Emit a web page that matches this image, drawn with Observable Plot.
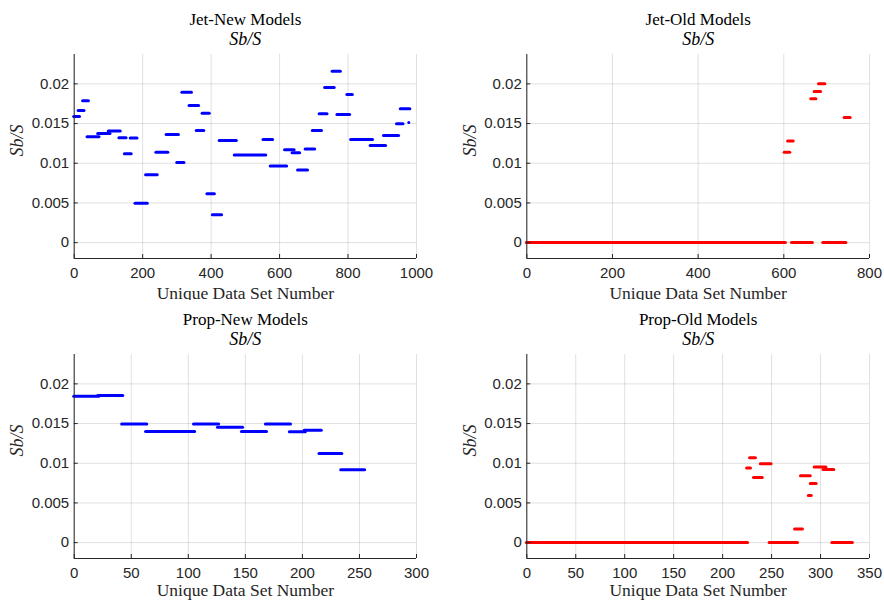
<!DOCTYPE html>
<html><head><meta charset="utf-8">
<script src="https://cdn.jsdelivr.net/npm/d3@7"></script>
<script src="https://cdn.jsdelivr.net/npm/@observablehq/plot@0.6"></script>
<style>
body{margin:0;background:#fff;}
#wrap{position:relative;width:884px;height:601px;overflow:hidden;}
.panel{position:absolute;}
</style></head><body><div id="wrap"></div>
<script>
// ---- data: each run of identical values is one segment (first set, last set, value) ----
const jetNewStart = [0,13,26,39,70,101,132,148,165,179,210,240,270,301,316,337,358,375,389,405,425,469,553,574,616,638,654,676,697,717,733,755,769,798,809,866,905,943,954,979];
const jetNewEnd   = [17,30,43,74,106,136,153,168,185,215,244,275,306,322,344,365,380,396,411,432,475,561,581,622,644,660,683,704,724,740,761,779,806,814,873,911,949,962,982,979];
const jetNewValue = [0.0159,0.01665,0.01786,0.01333,0.01375,0.01405,0.01321,0.01119,0.01317,0.00495,0.00855,0.0114,0.01363,0.0101,0.01895,0.01727,0.01413,0.01631,0.00616,0.00352,0.01287,0.01103,0.0130,0.00964,0.0117,0.01132,0.00914,0.01178,0.01413,0.01623,0.01954,0.02159,0.01614,0.01866,0.0130,0.01224,0.0135,0.01497,0.01686,0.01514];

const jetOldStart = [0,602,610,619,664,672,682,692,742];
const jetOldEnd   = [605,615,623,668,676,687,697,746,756];
const jetOldValue = [0,0.0114,0.01279,0,0.01811,0.01904,0.0200,0,0.01577];

const propNewStart = [0,21,42,63,105,126,147,168,189,202,215,234];
const propNewEnd   = [22,43,64,106,127,148,169,190,203,217,235,255];
const propNewValue = [0.01845,0.01853,0.01493,0.0140,0.01493,0.01455,0.0140,0.01493,0.01396,0.01417,0.01124,0.00918];

const propOldStart = [0,225,228,232,239,248,274,280,288,290,294,303,312];
const propOldEnd   = [226,229,234,241,250,277,282,290,291,296,306,314,333];
const propOldValue = [0,0.00939,0.01069,0.00822,0.00994,0,0.00172,0.00843,0.00595,0.00746,0.00952,0.00922,0];

const yTicks = [0, 0.005, 0.01, 0.015, 0.02];
const yTickLabels = ["0", "0.005", "0.01", "0.015", "0.02"];
const yDomain = [-0.002, 0.0237];
const jetNewXTicks = [0, 200, 400, 600, 800, 1000];
const jetOldXTicks = [0, 200, 400, 600, 800];
const propNewXTicks = [0, 50, 100, 150, 200, 250, 300];
const propOldXTicks = [0, 50, 100, 150, 200, 250, 300, 350];

const titles = ["Jet-New Models", "Jet-Old Models", "Prop-New Models", "Prop-Old Models"];
const subTitle = "Sb/S";
const xLabel = "Unique Data Set Number";
const yLabel = "Sb/S";

const SERIF = "'Liberation Serif','Times New Roman',serif";
const SANS = "'Liberation Sans',Arial,Helvetica,sans-serif";
const AX = "#262626";

function panel(o) {
  const rows = o.starts.map((s, i) => ({start: s, end: o.ends[i], value: o.values[i]}));
  const svg = Plot.plot({
    width: o.width, height: o.height,
    marginLeft: o.ml, marginRight: o.mr, marginTop: 54, marginBottom: o.height - 258,
    style: {fontFamily: SANS, fontSize: "15px", color: AX, background: "#fff", overflow: "visible"},
    x: {domain: o.xDomain},
    y: {domain: yDomain},
    marks: [
      Plot.gridX(o.xTicks, {stroke: "#000", strokeOpacity: 0.12}),
      Plot.gridY(yTicks, {stroke: "#000", strokeOpacity: 0.12}),
      Plot.ruleY(rows, {x1: "start", x2: "end", y: "value", stroke: o.color, strokeWidth: 3, strokeLinecap: "round"}),
      Plot.ruleX([o.xDomain[0]], {stroke: AX, strokeWidth: 1}),
      Plot.ruleY([yDomain[0]], {stroke: AX, strokeWidth: 1}),
      Plot.axisX(o.xTicks, {tickSize: 0, tickPadding: 9, tickFormat: d => String(d), label: null, fill: AX}),
      Plot.axisX(o.xTicks, {tickSize: -4, tickFormat: () => "", label: null, stroke: AX}),
      Plot.axisY(yTicks, {tickSize: 0, tickPadding: 5, tickFormat: d => yTickLabels[yTicks.indexOf(d)], label: null, fill: AX}),
      Plot.axisY(yTicks, {tickSize: -4, tickFormat: () => "", label: null, stroke: AX}),
      Plot.text([o.title], {text: d => d, frameAnchor: "top", lineAnchor: "middle", dy: -35, fontFamily: SERIF, fontSize: 17, fill: "#000"}),
      Plot.text([subTitle], {text: d => d, frameAnchor: "top", lineAnchor: "middle", dy: -15, fontFamily: SERIF, fontStyle: "italic", fontSize: 18, fill: "#000"}),
      Plot.text([xLabel], {text: d => d, frameAnchor: "bottom", lineAnchor: "middle", dy: o.labelDy, fontFamily: SERIF, fontSize: 17.5, fill: AX}),
      Plot.text([yLabel], {text: d => d, frameAnchor: "left", lineAnchor: "middle", dx: -57, rotate: -90, fontFamily: SERIF, fontStyle: "italic", fontSize: 18, fill: AX})
    ]
  });
  const div = document.createElement("div");
  div.className = "panel";
  div.style.left = o.left + "px";
  div.style.top = o.top + "px";
  div.appendChild(svg);
  document.getElementById("wrap").appendChild(div);
}

panel({title: titles[0], starts: jetNewStart, ends: jetNewEnd, values: jetNewValue, color: "#0000ff",
  xDomain: [0, 1000], xTicks: jetNewXTicks, left: 0, top: 0, width: 442, height: 300, ml: 73.7, mr: 26, labelDy: 35});
panel({title: titles[1], starts: jetOldStart, ends: jetOldEnd, values: jetOldValue, color: "#ff0000",
  xDomain: [0, 800], xTicks: jetOldXTicks, left: 442, top: 0, width: 442, height: 300, ml: 84.3, mr: 15, labelDy: 35});
panel({title: titles[2], starts: propNewStart, ends: propNewEnd, values: propNewValue, color: "#0000ff",
  xDomain: [0, 300], xTicks: propNewXTicks, left: 0, top: 300, width: 442, height: 301, ml: 73.7, mr: 26, labelDy: 32});
panel({title: titles[3], starts: propOldStart, ends: propOldEnd, values: propOldValue, color: "#ff0000",
  xDomain: [0, 350], xTicks: propOldXTicks, left: 442, top: 300, width: 442, height: 301, ml: 84.3, mr: 15, labelDy: 32});
</script></body></html>
